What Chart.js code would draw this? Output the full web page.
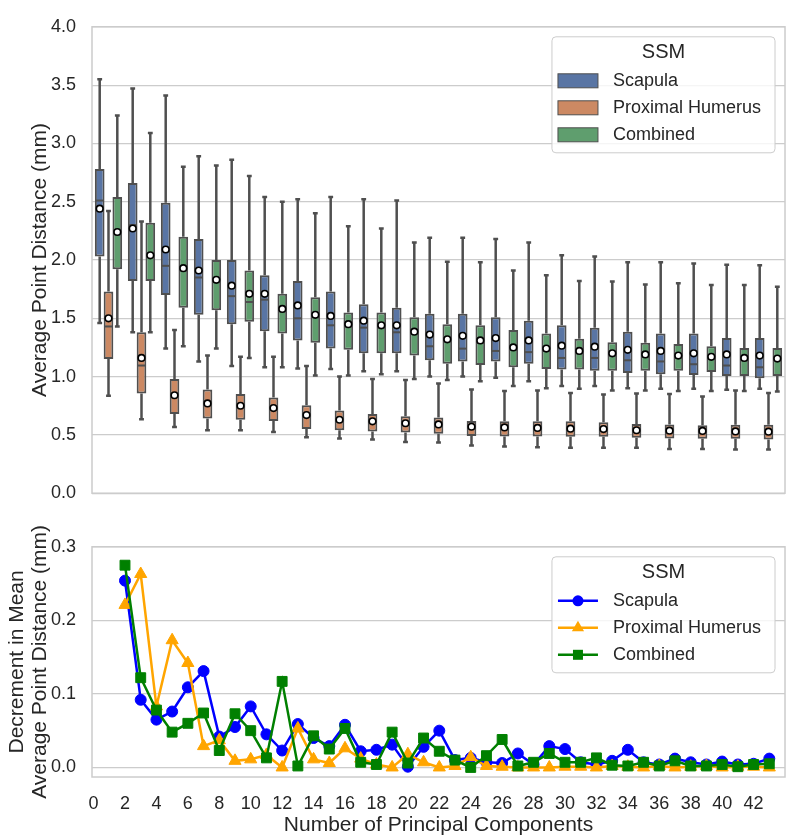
<!DOCTYPE html>
<html>
<head>
<meta charset="utf-8">
<script src="https://cdn.jsdelivr.net/npm/chart.js@4.4.1/dist/chart.umd.min.js"></script>
<style>
  body { margin: 0; background: #fff; }
  #wrap { position: relative; width: 787px; height: 840px; }
  #boxChart { position: absolute; left: 0; top: 0; }
  #dropChart { position: absolute; left: 0; top: 520px; }
</style>
</head>
<body>
<div id="wrap">
  <canvas id="boxChart" width="787" height="520"></canvas>
  <canvas id="dropChart" width="787" height="320"></canvas>
</div>
<script>
// ---- top panel: box plots (one group per step) ----
const boxGroups = ['1', '2', '3', '4', '5', '6', '7', '8', '9', '10', '11',
    '12', '13', '14', '15', '16', '17', '18', '19', '20', '21'];

const scapulaLow  = [1.46, 1.38, 1.24, 1.13, 1.09, 1.08, 1.07, 1.065, 1.045, 1.045, 1.00, 1.00, 0.99, 0.96, 0.92, 0.92, 0.90, 0.895, 0.895, 0.887, 0.895];
const scapulaQ1   = [2.03, 1.82, 1.70, 1.53, 1.45, 1.39, 1.31, 1.24, 1.20, 1.20, 1.14, 1.13, 1.13, 1.11, 1.06, 1.05, 1.03, 1.02, 1.013, 1.005, 0.985];
const scapulaMed  = [2.51, 2.30, 1.95, 1.85, 1.69, 1.66, 1.50, 1.44, 1.42, 1.38, 1.26, 1.24, 1.22, 1.21, 1.16, 1.16, 1.14, 1.13, 1.106, 1.095, 1.08];
const scapulaQ3   = [2.78, 2.66, 2.49, 2.18, 2.00, 1.87, 1.82, 1.73, 1.62, 1.59, 1.54, 1.54, 1.51, 1.48, 1.44, 1.42, 1.385, 1.37, 1.37, 1.33, 1.33];
const scapulaHigh = [3.55, 3.47, 3.41, 2.89, 2.86, 2.54, 2.52, 2.54, 2.52, 2.51, 2.19, 2.19, 2.18, 2.15, 2.04, 2.03, 1.98, 1.98, 1.97, 1.96, 1.955];
const scapulaMean = [2.44, 2.27, 2.09, 1.91, 1.78, 1.71, 1.61, 1.52, 1.48, 1.44, 1.36, 1.35, 1.33, 1.31, 1.265, 1.257, 1.23, 1.22, 1.20, 1.19, 1.18];

const humerusLow  = [0.835, 0.635, 0.567, 0.54, 0.54, 0.525, 0.48, 0.47, 0.46, 0.44, 0.435, 0.41, 0.40, 0.394, 0.39, 0.39, 0.39, 0.38, 0.38, 0.375, 0.375];
const humerusQ1   = [1.15, 0.854, 0.68, 0.64, 0.63, 0.62, 0.55, 0.54, 0.53, 0.52, 0.51, 0.49, 0.487, 0.487, 0.485, 0.485, 0.476, 0.47, 0.466, 0.466, 0.46];
const humerusMed  = [1.43, 1.095, 0.83, 0.76, 0.74, 0.72, 0.66, 0.62, 0.61, 0.59, 0.58, 0.56, 0.555, 0.55, 0.545, 0.54, 0.53, 0.53, 0.525, 0.52, 0.52];
const humerusQ3   = [1.73, 1.38, 0.98, 0.89, 0.85, 0.82, 0.755, 0.71, 0.68, 0.66, 0.65, 0.62, 0.616, 0.616, 0.616, 0.608, 0.594, 0.59, 0.583, 0.586, 0.586];
const humerusHigh = [2.42, 2.33, 1.40, 1.18, 1.17, 1.17, 1.09, 1.00, 0.98, 0.97, 0.94, 0.89, 0.876, 0.88, 0.86, 0.846, 0.854, 0.85, 0.83, 0.88, 0.86];
const humerusMean = [1.50, 1.16, 0.84, 0.77, 0.75, 0.73, 0.67, 0.63, 0.616, 0.60, 0.59, 0.57, 0.564, 0.56, 0.553, 0.55, 0.54, 0.536, 0.534, 0.53, 0.528];

const combinedLow  = [1.43, 1.38, 1.26, 1.24, 1.16, 1.08, 1.01, 1.01, 1.02, 0.98, 0.97, 0.96, 0.92, 0.90, 0.895, 0.88, 0.88, 0.876, 0.876, 0.876, 0.873];
const combinedQ1   = [1.92, 1.82, 1.59, 1.57, 1.47, 1.37, 1.29, 1.23, 1.20, 1.18, 1.11, 1.10, 1.08, 1.065, 1.06, 1.05, 1.05, 1.05, 1.04, 1.005, 1.005];
const combinedMed  = [2.22, 2.03, 1.91, 1.81, 1.64, 1.56, 1.51, 1.43, 1.42, 1.37, 1.30, 1.29, 1.23, 1.22, 1.20, 1.18, 1.17, 1.16, 1.15, 1.14, 1.14];
const combinedQ3   = [2.54, 2.32, 2.20, 2.00, 1.91, 1.71, 1.68, 1.55, 1.55, 1.51, 1.45, 1.44, 1.40, 1.37, 1.325, 1.295, 1.29, 1.28, 1.26, 1.245, 1.245];
const combinedHigh = [3.24, 3.09, 2.80, 2.81, 2.72, 2.50, 2.40, 2.29, 2.27, 2.15, 1.985, 1.98, 1.91, 1.87, 1.82, 1.815, 1.79, 1.80, 1.785, 1.785, 1.77];
const combinedMean = [2.24, 2.04, 1.93, 1.83, 1.71, 1.58, 1.53, 1.45, 1.44, 1.385, 1.32, 1.31, 1.25, 1.24, 1.22, 1.20, 1.19, 1.18, 1.17, 1.16, 1.155];

// ---- bottom panel: decrement in mean ----
const pcCounts = [2, 3, 4, 5, 6, 7, 8, 9, 10, 11, 12, 13, 14, 15, 16, 17, 18, 19, 20, 21, 22,
    23, 24, 25, 26, 27, 28, 29, 30, 31, 32, 33, 34, 35, 36, 37, 38, 39, 40, 41, 42, 43];
const scapulaDrop = [0.254, 0.092, 0.065, 0.076, 0.109, 0.131, 0.042, 0.055, 0.083, 0.045, 0.023,
    0.059, 0.040, 0.029, 0.058, 0.022, 0.024, 0.031, 0.001, 0.028, 0.050, 0.010, 0.013, 0.007,
    0.006, 0.019, 0.004, 0.029, 0.025, 0.007, 0.004, 0.009, 0.024, 0.007, 0.004, 0.012, 0.007,
    0.004, 0.008, 0.004, 0.005, 0.012];
const humerusDrop = [0.221, 0.263, 0.083, 0.173, 0.142, 0.029, 0.037, 0.009, 0.011, 0.017, 0.000,
    0.053, 0.011, 0.006, 0.026, 0.012, 0.004, 0.000, 0.018, 0.007, 0.000, 0.002, 0.014, 0.002,
    0.001, 0.000, 0.000, 0.000, 0.001, 0.001, 0.000, 0.002, 0.001, 0.000, 0.002, 0.000, 0.001,
    0.002, 0.000, 0.001, 0.001, 0.000];
const combinedDrop = [0.275, 0.122, 0.078, 0.048, 0.060, 0.074, 0.023, 0.073, 0.050, 0.013, 0.117,
    0.002, 0.043, 0.025, 0.053, 0.007, 0.004, 0.048, 0.006, 0.040, 0.022, 0.010, 0.000, 0.016,
    0.038, 0.002, 0.007, 0.019, 0.007, 0.007, 0.013, 0.003, 0.002, 0.007, 0.002, 0.009, 0.002,
    0.002, 0.004, 0.001, 0.004, 0.005];

const xTickValues = [0, 2, 4, 6, 8, 10, 12, 14, 16, 18, 20, 22, 24, 26, 28, 30, 32, 34, 36, 38, 40, 42];
const dropTickValues = [0, 0.1, 0.2, 0.3];

const FONT = '"Liberation Sans", Arial, Helvetica, sans-serif';
const gridColor = '#cccccc';
const edgeGray = '#4f4f4f';
const textColor = '#262626';

Chart.defaults.font.family = FONT;
Chart.defaults.color = textColor;
Chart.defaults.animation = false;

// light gray frame round the plot area
const framePlugin = {
    id: 'frame',
    beforeDatasetsDraw(chart) {
        const a = chart.chartArea, ctx = chart.ctx;
        ctx.save();
        ctx.strokeStyle = gridColor;
        ctx.lineWidth = 1.5;
        ctx.strokeRect(a.left, a.top, a.right - a.left, a.bottom - a.top);
        ctx.restore();
    }
};

// whiskers before boxes, median + mean after
const whiskerPlugin = {
    id: 'whiskers',
    beforeDatasetsDraw(chart) {
        const ctx = chart.ctx, y = chart.scales.y;
        ctx.save();
        ctx.strokeStyle = edgeGray;
        ctx.lineWidth = 2.5;
        chart.data.datasets.forEach((ds, i) => {
            chart.getDatasetMeta(i).data.forEach((bar, j) => {
                const cap = bar.width * 0.25;
                const yLo = y.getPixelForValue(ds.low[j]);
                const yHi = y.getPixelForValue(ds.high[j]);
                const yQ1 = y.getPixelForValue(ds.data[j][0]);
                const yQ3 = y.getPixelForValue(ds.data[j][1]);
                ctx.beginPath();
                ctx.moveTo(bar.x, yQ3); ctx.lineTo(bar.x, yHi);
                ctx.moveTo(bar.x, yQ1); ctx.lineTo(bar.x, yLo);
                ctx.moveTo(bar.x - cap, yHi); ctx.lineTo(bar.x + cap, yHi);
                ctx.moveTo(bar.x - cap, yLo); ctx.lineTo(bar.x + cap, yLo);
                ctx.stroke();
            });
        });
        ctx.restore();
    },
    afterDatasetsDraw(chart) {
        const ctx = chart.ctx, y = chart.scales.y;
        ctx.save();
        chart.data.datasets.forEach((ds, i) => {
            chart.getDatasetMeta(i).data.forEach((bar, j) => {
                const yMed = y.getPixelForValue(ds.med[j]);
                ctx.strokeStyle = edgeGray;
                ctx.lineWidth = 2;
                ctx.beginPath();
                ctx.moveTo(bar.x - bar.width / 2 + 1, yMed);
                ctx.lineTo(bar.x + bar.width / 2 - 1, yMed);
                ctx.stroke();
                ctx.beginPath();
                ctx.arc(bar.x, y.getPixelForValue(ds.mean[j]), 3.3, 0, Math.PI * 2);
                ctx.fillStyle = '#ffffff';
                ctx.fill();
                ctx.strokeStyle = '#000000';
                ctx.lineWidth = 1.6;
                ctx.stroke();
            });
        });
        ctx.restore();
    }
};

function drawLegend(chart, entries, drawHandle) {
    const ctx = chart.ctx, a = chart.chartArea;
    ctx.save();
    ctx.font = '18px ' + FONT;
    const textW = Math.max(...entries.map(e => ctx.measureText(e.label).width));
    const w = 6 + 40 + 15 + textW + 14;
    const h = 116;
    const left = a.right - 10 - w, top = a.top + 10;
    ctx.beginPath();
    ctx.roundRect(left, top, w, h, 4);
    ctx.fillStyle = 'rgba(255,255,255,0.8)';
    ctx.fill();
    ctx.strokeStyle = '#cccccc';
    ctx.lineWidth = 1;
    ctx.stroke();
    ctx.fillStyle = textColor;
    ctx.textBaseline = 'middle';
    ctx.textAlign = 'center';
    ctx.font = '20px ' + FONT;
    ctx.fillText('SSM', left + w / 2, top + 16);
    ctx.font = '18px ' + FONT;
    ctx.textAlign = 'left';
    entries.forEach((e, k) => {
        const cy = top + 44 + k * 27;
        drawHandle(ctx, e, left + 6, cy);
        ctx.fillStyle = textColor;
        ctx.fillText(e.label, left + 61, cy);
    });
    ctx.restore();
}

const boxLegend = {
    id: 'boxLegend',
    afterDraw(chart) {
        const entries = chart.data.datasets.map(ds => ({ label: ds.label, color: ds.backgroundColor }));
        drawLegend(chart, entries, (ctx, e, x, cy) => {
            ctx.fillStyle = e.color;
            ctx.fillRect(x, cy - 7, 40, 14);
            ctx.strokeStyle = edgeGray;
            ctx.lineWidth = 1;
            ctx.strokeRect(x, cy - 7, 40, 14);
        });
    }
};

function drawMarker(ctx, style, color, x, y) {
    ctx.fillStyle = color;
    ctx.beginPath();
    if (style === 'circle') {
        ctx.arc(x, y, 5.5, 0, Math.PI * 2);
    } else if (style === 'triangle') {
        ctx.moveTo(x, y - 7);
        ctx.lineTo(x + 6.1, y + 3.5);
        ctx.lineTo(x - 6.1, y + 3.5);
        ctx.closePath();
    } else {
        ctx.rect(x - 5, y - 5, 10, 10);
    }
    ctx.fill();
}

const dropLegend = {
    id: 'dropLegend',
    afterDraw(chart) {
        const entries = [...chart.data.datasets]
            .sort((p, q) => q.order - p.order)
            .map(ds => ({ label: ds.label, color: ds.borderColor, style: ds.pointStyle }));
        drawLegend(chart, entries, (ctx, e, x, cy) => {
            ctx.strokeStyle = e.color;
            ctx.lineWidth = 2.5;
            ctx.beginPath();
            ctx.moveTo(x, cy); ctx.lineTo(x + 40, cy);
            ctx.stroke();
            drawMarker(ctx, e.style, e.color, x + 20, cy);
        });
    }
};

function boxSet(label, q1, q3, low, high, med, mean, color) {
    return {
        label: label,
        data: q1.map((v, i) => [v, q3[i]]),
        low: low, high: high, med: med, mean: mean,
        backgroundColor: color,
        borderColor: edgeGray,
        borderWidth: 2,
        borderSkipped: false,
        categoryPercentage: 0.8,
        barPercentage: 1.1
    };
}

const boxCtx = document.getElementById('boxChart').getContext('2d');
const boxChart = new Chart(boxCtx, {
    type: 'bar',
    data: {
        labels: boxGroups,
        datasets: [
            boxSet('Scapula', scapulaQ1, scapulaQ3, scapulaLow, scapulaHigh, scapulaMed, scapulaMean, '#5975a4'),
            boxSet('Proximal Humerus', humerusQ1, humerusQ3, humerusLow, humerusHigh, humerusMed, humerusMean, '#cc8963'),
            boxSet('Combined', combinedQ1, combinedQ3, combinedLow, combinedHigh, combinedMed, combinedMean, '#5f9e6e')
        ]
    },
    options: {
        responsive: false,
        layout: { autoPadding: false, padding: { top: 7, right: 2, bottom: 26, left: 0 } },
        plugins: { legend: { display: false }, tooltip: { enabled: false } },
        scales: {
            x: { display: false },
            y: {
                min: 0,
                max: 4,
                ticks: { stepSize: 0.5, padding: 16, font: { size: 18 }, callback: v => v.toFixed(1) },
                grid: { color: gridColor, lineWidth: 1.2, drawTicks: false },
                border: { display: false },
                title: {
                    display: true,
                    text: 'Average Point Distance (mm)',
                    font: { size: 21, lineHeight: 1.15 },
                    padding: { top: 28, bottom: 0 }
                },
                afterFit: s => { s.width = 92; }
            }
        }
    },
    plugins: [framePlugin, whiskerPlugin, boxLegend]
});

function lineSet(label, values, color, style, radius, order) {
    return {
        label: label,
        data: pcCounts.map((x, i) => ({ x: x, y: values[i] })),
        borderColor: color,
        backgroundColor: color,
        borderWidth: 2.5,
        pointStyle: style,
        pointRadius: radius,
        pointBackgroundColor: color,
        pointBorderColor: color,
        pointBorderWidth: 1,
        tension: 0,
        clip: false,
        order: order
    };
}

const dropCtx = document.getElementById('dropChart').getContext('2d');
const dropChart = new Chart(dropCtx, {
    type: 'line',
    data: {
        datasets: [
            lineSet('Scapula', scapulaDrop, '#0000ff', 'circle', 5.5, 3),
            lineSet('Proximal Humerus', humerusDrop, '#ffa500', 'triangle', 7, 2),
            lineSet('Combined', combinedDrop, '#008000', 'rect', 7, 1)
        ]
    },
    options: {
        responsive: false,
        layout: { autoPadding: false, padding: { top: 14, right: 2, bottom: 0, left: 0 } },
        plugins: { legend: { display: false }, tooltip: { enabled: false } },
        scales: {
            x: {
                type: 'linear',
                min: -0.1,
                max: 44,
                afterBuildTicks: s => { s.ticks = xTickValues.map(v => ({ value: v })); },
                ticks: { padding: 8, font: { size: 18 }, autoSkip: false, maxRotation: 0 },
                grid: { display: false },
                border: { display: false },
                title: {
                    display: true,
                    text: 'Number of Principal Components',
                    font: { size: 21 },
                    padding: { top: 0, bottom: 2 }
                },
                afterFit: s => { s.height = 63; }
            },
            y: {
                min: -0.013,
                max: 0.3,
                afterBuildTicks: s => { s.ticks = dropTickValues.map(v => ({ value: v })); },
                ticks: { padding: 16, font: { size: 18 }, callback: v => v.toFixed(1) },
                grid: { color: gridColor, lineWidth: 1.2, drawTicks: false },
                border: { display: false },
                title: {
                    display: true,
                    text: ['Decrement in Mean', 'Average Point Distance (mm)'],
                    font: { size: 21, lineHeight: 1.1 },
                    padding: { top: 6, bottom: 0 }
                },
                afterFit: s => { s.width = 92; }
            }
        }
    },
    plugins: [framePlugin, dropLegend]
});
</script>
</body>
</html>
